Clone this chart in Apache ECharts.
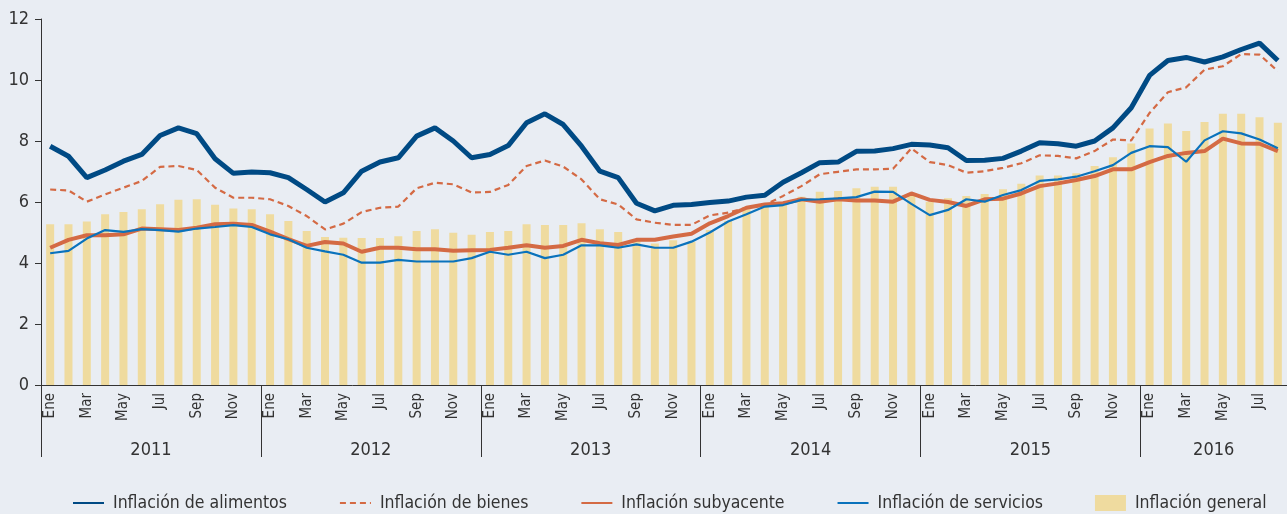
<!DOCTYPE html>
<html>
<head>
<meta charset="utf-8">
<script src="https://cdn.jsdelivr.net/npm/echarts@6/dist/echarts.min.js"></script>
<style>
html,body{margin:0;padding:0;background:#e9edf3;}
#main{width:1287px;height:514px;}
</style>
</head>
<body>
<div id="main"></div>
<script>
//datos
var anios = ['2011', '2012', '2013', '2014', '2015', '2016'];
var mesesAnio = [12, 12, 12, 12, 12, 8];
var nombresMes = ['Ene', 'Feb', 'Mar', 'Abr', 'May', 'Jun', 'Jul', 'Ago', 'Sep', 'Oct', 'Nov', 'Dic'];

var alimentos = [
    7.83, 7.50, 6.80, 7.05, 7.34, 7.56, 8.18, 8.43, 8.24, 7.42, 6.94, 6.98,
    6.96, 6.80, 6.41, 6.00, 6.30, 7.01, 7.31, 7.45, 8.16, 8.43, 8.00, 7.45,
    7.56, 7.85, 8.60, 8.89, 8.54, 7.83, 7.01, 6.80, 5.96, 5.71, 5.89, 5.92,
    5.98, 6.03, 6.16, 6.22, 6.65, 6.96, 7.29, 7.31, 7.66, 7.67, 7.75, 7.89,
    7.87, 7.78, 7.36, 7.37, 7.43, 7.67, 7.94, 7.91, 7.83, 8.00, 8.43, 9.09,
    10.15, 10.64, 10.74, 10.59, 10.76, 11.00, 11.21, 10.64
];
var bienes = [
    6.41, 6.38, 6.01, 6.25, 6.47, 6.69, 7.15, 7.18, 7.05, 6.47, 6.14, 6.14,
    6.09, 5.87, 5.54, 5.10, 5.29, 5.67, 5.81, 5.85, 6.45, 6.63, 6.58, 6.31,
    6.33, 6.56, 7.18, 7.36, 7.16, 6.74, 6.09, 5.92, 5.43, 5.32, 5.25, 5.25,
    5.56, 5.65, 5.81, 5.90, 6.20, 6.52, 6.91, 6.99, 7.07, 7.07, 7.09, 7.76,
    7.31, 7.21, 6.96, 7.01, 7.12, 7.27, 7.53, 7.51, 7.43, 7.67, 8.05, 8.02,
    8.92, 9.60, 9.76, 10.34, 10.45, 10.85, 10.83, 10.29
];
var subyacente = [
    4.50, 4.76, 4.91, 4.91, 4.94, 5.13, 5.11, 5.08, 5.16, 5.27, 5.29, 5.25,
    5.03, 4.78, 4.56, 4.69, 4.64, 4.37, 4.50, 4.50, 4.45, 4.45, 4.40, 4.42,
    4.43, 4.50, 4.58, 4.50, 4.56, 4.76, 4.65, 4.59, 4.76, 4.76, 4.87, 4.96,
    5.30, 5.54, 5.81, 5.92, 5.96, 6.09, 6.01, 6.09, 6.05, 6.05, 6.01, 6.28,
    6.07, 6.00, 5.87, 6.09, 6.11, 6.28, 6.52, 6.61, 6.72, 6.85, 7.07, 7.07,
    7.31, 7.51, 7.61, 7.67, 8.08, 7.92, 7.91, 7.67
];
var servicios = [
    4.32, 4.40, 4.80, 5.08, 5.02, 5.11, 5.08, 5.03, 5.13, 5.18, 5.24, 5.18,
    4.94, 4.78, 4.50, 4.38, 4.27, 4.01, 4.01, 4.10, 4.05, 4.05, 4.05, 4.16,
    4.37, 4.27, 4.37, 4.16, 4.27, 4.58, 4.58, 4.50, 4.61, 4.50, 4.50, 4.70,
    5.00, 5.36, 5.60, 5.85, 5.90, 6.07, 6.09, 6.12, 6.16, 6.34, 6.33, 5.94,
    5.57, 5.74, 6.09, 6.01, 6.23, 6.39, 6.69, 6.74, 6.83, 7.01, 7.21, 7.61,
    7.83, 7.80, 7.32, 8.02, 8.32, 8.25, 8.05, 7.76
];
var general = [
    5.27, 5.27, 5.36, 5.60, 5.67, 5.76, 5.93, 6.07, 6.09, 5.91, 5.79, 5.76,
    5.60, 5.38, 5.05, 4.85, 4.83, 4.82, 4.82, 4.88, 5.05, 5.11, 4.99, 4.93,
    5.02, 5.05, 5.27, 5.25, 5.25, 5.30, 5.11, 5.02, 4.78, 4.64, 4.75, 4.70,
    5.08, 5.38, 5.76, 5.87, 5.98, 6.17, 6.34, 6.36, 6.45, 6.50, 6.50, 6.28,
    6.01, 6.12, 6.20, 6.26, 6.42, 6.60, 6.87, 6.87, 6.94, 7.18, 7.47, 7.92,
    8.41, 8.57, 8.33, 8.62, 8.89, 8.89, 8.78, 8.60
];
var yTicks = [0, 2, 4, 6, 8, 10, 12];

//categorias: un mes por barra
var meses = [];
anios.forEach(function (a, k) {
    for (var m = 0; m < mesesAnio[k]; m++) meses.push(nombresMes[m]);
});

//eje de los años: medio mes por punto, etiqueta en el centro del año
var medios = [], cortes = {};
var pos = 0;
for (var j = 0; j <= meses.length * 2; j++) medios.push('');
anios.forEach(function (a, k) {
    cortes[pos] = true;
    medios[pos + mesesAnio[k]] = a;
    pos += mesesAnio[k] * 2;
});

var fuente = "'DejaVu Sans Condensed', 'Liberation Sans Narrow', sans-serif";
var gris = '#333333';

var myChart = echarts.init(document.getElementById('main'));

//la leyenda de las lineas sin circulo
var sinSimbolo = {opacity: 0};

var option = {
    backgroundColor: '#e9edf3',
    animation: false,
    textStyle: {fontFamily: fuente},
    grid: {left: 41, top: 19, width: 1250, height: 366},
    legend: {
        left: 72,
        top: 494,
        width: 1215,
        padding: 0,
        itemWidth: 31,
        itemHeight: 16,
        itemGap: 52,
        textStyle: {fontFamily: fuente, fontSize: 17.5, color: gris, padding: [0, 0, 0, 4]},
        data: [
            {name: 'Inflación de alimentos', itemStyle: sinSimbolo},
            {name: 'Inflación de bienes', itemStyle: sinSimbolo},
            {name: 'Inflación subyacente', itemStyle: sinSimbolo},
            {name: 'Inflación de servicios', itemStyle: sinSimbolo},
            {name: 'Inflación general', icon: 'rect'}
        ]
    },
    xAxis: [
        {
            type: 'category',
            data: meses,
            boundaryGap: true,
            axisLine: {lineStyle: {color: gris, width: 1}},
            axisTick: {interval: 0, length: 5, lineStyle: {color: gris}},
            axisLabel: {
                interval: function (i) { return i % 2 === 0; },
                rotate: 90,
                margin: 8,
                fontSize: 15,
                color: gris,
                fontFamily: fuente
            }
        },
        {
            type: 'category',
            data: medios,
            boundaryGap: false,
            position: 'bottom',
            axisLine: {show: false},
            axisTick: {
                interval: function (i) { return !!cortes[i]; },
                length: 72,
                lineStyle: {color: gris}
            },
            axisLabel: {
                interval: function (i, v) { return v !== ''; },
                margin: 56,
                fontSize: 18,
                color: gris,
                fontFamily: fuente
            }
        }
    ],
    yAxis: {
        type: 'value',
        min: yTicks[0],
        max: yTicks[yTicks.length - 1],
        interval: 2,
        splitLine: {show: false},
        axisLine: {show: true, lineStyle: {color: gris}},
        axisTick: {show: true, length: 6, lineStyle: {color: gris}},
        axisLabel: {margin: 12, fontSize: 18, color: gris, fontFamily: fuente}
    },
    series: [
        {
            name: 'Inflación general',
            type: 'bar',
            data: general,
            barWidth: 8,
            itemStyle: {color: '#efdb9f'}
        },
        {
            name: 'Inflación subyacente',
            type: 'line',
            data: subyacente,
            symbol: 'none',
            lineStyle: {color: '#d46a44', width: 4},
            itemStyle: {color: '#d46a44'}
        },
        {
            name: 'Inflación de bienes',
            type: 'line',
            data: bienes,
            symbol: 'none',
            lineStyle: {color: '#d46a44', width: 2.2, type: [6, 4]},
            itemStyle: {color: '#d46a44'}
        },
        {
            name: 'Inflación de servicios',
            type: 'line',
            data: servicios,
            symbol: 'none',
            lineStyle: {color: '#0a72bc', width: 2.2},
            itemStyle: {color: '#0a72bc'}
        },
        {
            name: 'Inflación de alimentos',
            type: 'line',
            data: alimentos,
            symbol: 'none',
            lineStyle: {color: '#004a84', width: 5},
            itemStyle: {color: '#004a84'}
        }
    ]
};

myChart.setOption(option);
</script>
</body>
</html>
